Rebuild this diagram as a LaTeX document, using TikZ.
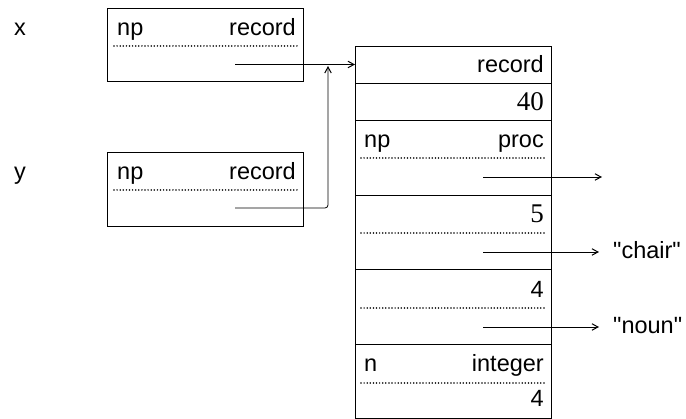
\documentclass[tikz,border=0pt]{standalone}
\usepackage{fontspec}
\setmainfont{Liberation Sans}
\newfontfamily\numserif{Liberation Serif}
\usetikzlibrary{arrows.meta}
\begin{document}
\begin{tikzpicture}[x=1pt,y=-1pt,
  cell/.style={draw,line width=0.9pt,rectangle,inner sep=0pt,minimum width=#1},
  lbl/.style={inner sep=0pt,font=\fontsize{23.5}{28}\selectfont},
  num/.style={inner sep=0pt,font=\numserif\fontsize{27}{32}\selectfont},
  dots/.style={line width=1.7pt,line cap=round,dash pattern=on 0pt off 3.1pt},
  arr/.style={line width=0.8pt,-{Straight Barb[length=6pt,width=6.5pt,line width=1pt]}}]
\useasboundingbox (0,0) rectangle (686,419);
% x box
\node[cell=196pt,minimum height=73pt,anchor=north west] (xbox) at (107,8) {};
\node[lbl,anchor=base west] (xl) at (14,36) {x};
\node[lbl,anchor=base west] (xnp) at (117,36) {np};
\node[lbl,anchor=base east] (xrec) at (296,36) {record};
\draw[dots] (114,46) -- (298,46);
% y box
\node[cell=196pt,minimum height=74pt,anchor=north west] (ybox) at (107,152) {};
\node[lbl,anchor=base west] (yl) at (14,180) {y};
\node[lbl,anchor=base west] (ynp) at (117,180) {np};
\node[lbl,anchor=base east] (yrec) at (296,180) {record};
\draw[dots] (114,190) -- (298,190);
% main record
\node[cell=196pt,minimum height=37pt,anchor=north west] (r1) at (355,46) {};
\node[cell=196pt,minimum height=37pt,anchor=north west] (r2) at (355,83) {};
\node[cell=196pt,minimum height=75pt,anchor=north west] (r3) at (355,120) {};
\node[cell=196pt,minimum height=74pt,anchor=north west] (r4) at (355,195) {};
\node[cell=196pt,minimum height=75pt,anchor=north west] (r5) at (355,269) {};
\node[cell=196pt,minimum height=74pt,anchor=north west] (r6) at (355,344) {};
\node[lbl,anchor=base east] (t1) at (544,73) {record};
\node[num,anchor=base east] (t2) at (544,111) {40};
\node[lbl,anchor=base west] (t3a) at (364,148) {np};
\node[lbl,anchor=base east] (t3b) at (544,148) {proc};
\draw[dots] (361,158) -- (545,158);
\node[num,anchor=base east] (t4) at (544,223) {5};
\draw[dots] (361,233) -- (545,233);
\node[lbl,anchor=base east] (t5) at (544,298) {4};
\draw[dots] (361,308) -- (545,308);
\node[lbl,anchor=base west] (t6a) at (364,372) {n};
\node[lbl,anchor=base east] (t6b) at (544,372) {integer};
\draw[dots] (361,383) -- (545,383);
\node[lbl,anchor=base east] (t6c) at (544,407) {4};
% targets
\node[lbl,anchor=base west] (chair) at (613,259) {\textquotedbl chair\textquotedbl};
\node[lbl,anchor=base west] (noun) at (613,334) {\textquotedbl noun\textquotedbl};
% connectors
\coordinate (xs) at (235,64.5);
\coordinate (ys) at (235,208);
\coordinate (join) at (328,66);
\draw[arr] (xs) -- (xs -| r1.west);
\draw[arr,rounded corners=3pt] (ys) -| (join);
\coordinate (ps) at (483,177);
\coordinate (pe) at (602,177);
\draw[arr] (ps) -- (pe);
\coordinate (cs) at (483,252);
\draw[arr,shorten >=14pt] (cs) -- (cs -| chair.west);
\coordinate (ns) at (483,327);
\draw[arr,shorten >=14pt] (ns) -- (ns -| noun.west);
\end{tikzpicture}
\end{document}
